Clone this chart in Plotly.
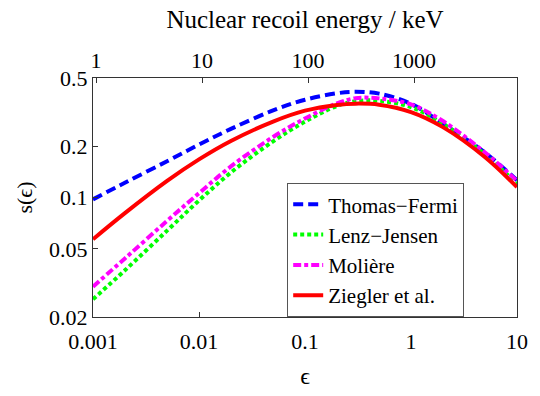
import plotly.graph_objects as go
import math

eps = [0.001, 0.002, 0.005, 0.01, 0.02, 0.05, 0.1, 0.2, 0.3, 0.5, 1, 2, 5, 10]
thomas_fermi = [0.0975, 0.122, 0.163, 0.204, 0.252, 0.323, 0.373, 0.407, 0.415, 0.405, 0.353, 0.27, 0.183, 0.126]
lenz_jensen = [0.0254, 0.0375, 0.064, 0.096, 0.140, 0.213, 0.278, 0.343, 0.366, 0.368, 0.338, 0.27, 0.178, 0.120]
moliere = [0.0301, 0.044, 0.073, 0.106, 0.152, 0.226, 0.290, 0.355, 0.381, 0.380, 0.350, 0.28, 0.183, 0.125]
ziegler = [0.057, 0.081, 0.125, 0.167, 0.214, 0.278, 0.322, 0.348, 0.354, 0.349, 0.316, 0.258, 0.172, 0.115]

x_ticks = [0.001, 0.01, 0.1, 1, 10]
x_ticktext = ["0.001", "0.01", "0.1", "1", "10"]
y_ticks = [0.02, 0.05, 0.1, 0.2, 0.5]
y_ticktext = ["0.02", "0.05", "0.1", "0.2", "0.5"]
kev_ticks = [1, 10, 100, 1000]
kev_ticktext = ["1", "10", "100", "1000"]
kev_per_eps = 935

FONT = "Times New Roman, Liberation Serif, serif"

series = [
    ("Thomas\u2212Fermi", thomas_fermi, "#0000ff", "10px,5px"),
    ("Lenz\u2212Jensen", lenz_jensen, "#00ff00", "4px,3px"),
    ("Moli\u00e8re", moliere, "#ff00ff", "8px,3px,4px,3px"),
    ("Ziegler et al.", ziegler, "#ff0000", "solid"),
]

fig = go.Figure()
for name, vals, color, dash in series:
    fig.add_trace(go.Scatter(
        x=eps, y=vals, mode="lines", name=name,
        line=dict(color=color, width=4, dash=dash, shape="spline", smoothing=1.0),
    ))

# invisible trace so the top (keV) axis is drawn
fig.add_trace(go.Scatter(x=[kev_ticks[0]], y=[0.1], xaxis="x2", mode="markers",
                         marker=dict(opacity=0), showlegend=False, hoverinfo="skip"))

axis_common = dict(
    type="log", showgrid=False, zeroline=False,
    ticks="inside", ticklen=5, tickwidth=1, tickcolor="#333",
    linecolor="#333", linewidth=1,
    tickfont=dict(family=FONT, size=22, color="black"),
)

fig.update_layout(
    width=540, height=396,
    margin=dict(l=93, r=22, t=78, b=62),
    paper_bgcolor="white", plot_bgcolor="white",
    font=dict(family=FONT, color="black"),
    xaxis=dict(
        **axis_common, range=[-3, 1], tickvals=x_ticks, ticktext=x_ticktext,
        mirror=True, ticklabelstandoff=5,
        title=dict(text="\u03f5", font=dict(family=FONT, size=24), standoff=13),
    ),
    xaxis2=dict(
        **axis_common, overlaying="x", side="top",
        range=[math.log10(0.001 * kev_per_eps), math.log10(10 * kev_per_eps)],
        tickvals=kev_ticks, ticktext=kev_ticktext,
        title=dict(text="Nuclear recoil energy / keV", font=dict(family=FONT, size=25), standoff=12),
    ),
    yaxis=dict(
        **axis_common, range=[math.log10(0.02), math.log10(0.5)],
        tickvals=y_ticks, ticktext=y_ticktext, mirror=True,
        title=dict(text="s(\u03f5)", font=dict(family=FONT, size=22), standoff=10),
    ),
    legend=dict(
        x=0.458, y=0.56, xanchor="left", yanchor="top",
        bgcolor="white", bordercolor="#555", borderwidth=1,
        font=dict(family=FONT, size=21, color="black"),
        itemwidth=30, tracegroupgap=0,
    ),
    showlegend=True,
)

fig.write_html("out.html")
